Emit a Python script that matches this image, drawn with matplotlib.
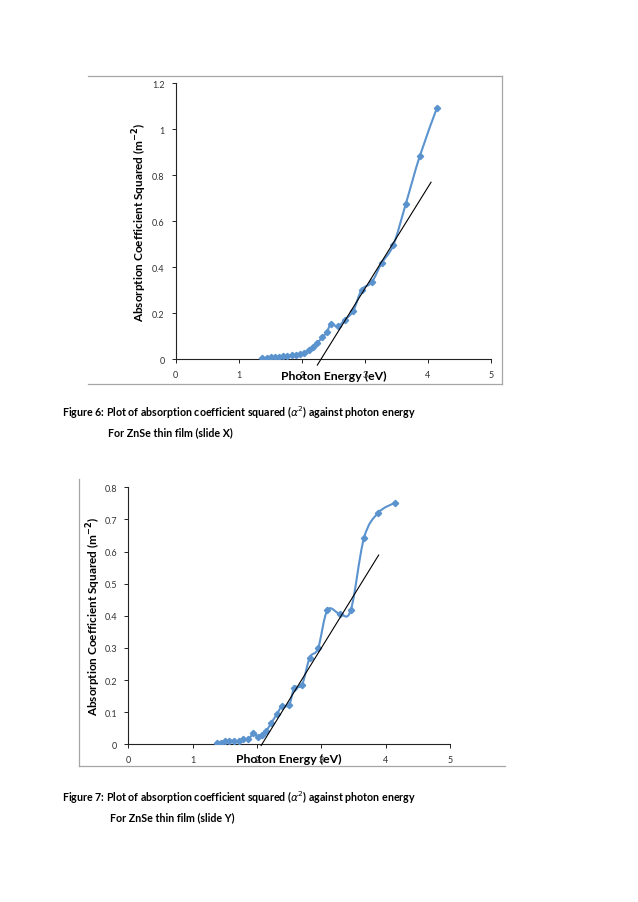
import numpy as np
import matplotlib
matplotlib.use("Agg")
import matplotlib.pyplot as plt
from matplotlib.path import Path
from matplotlib.patches import PathPatch
from matplotlib.lines import Line2D

plt.rcParams['font.family'] = ['Lato', 'DejaVu Sans']

# ---- data: Figure 6 (slide X) ----
energy_x = [1.374, 1.442, 1.506, 1.575, 1.643, 1.707, 1.770, 1.839, 1.908, 1.971,
            2.035, 2.109, 2.172, 2.246, 2.325, 2.394, 2.463, 2.569, 2.685, 2.817,
            2.949, 3.108, 3.266, 3.451, 3.650, 3.870, 4.140]
alpha2_x = [0.005, 0.007, 0.009, 0.010, 0.011, 0.013, 0.016, 0.017, 0.019, 0.022,
            0.026, 0.039, 0.052, 0.071, 0.095, 0.117, 0.153, 0.143, 0.172, 0.211,
            0.302, 0.334, 0.418, 0.496, 0.676, 0.882, 1.090]
fit_x_e = [2.246, 4.049]
fit_x_a = [-0.025, 0.769]

# ---- data: Figure 7 (slide Y) ----
energy_y = [1.375, 1.437, 1.504, 1.571, 1.644, 1.722, 1.789, 1.866, 1.944, 2.012,
            2.074, 2.142, 2.220, 2.307, 2.390, 2.500, 2.580, 2.700, 2.820, 2.950,
            3.095, 3.290, 3.460, 3.663, 3.886, 4.145]
alpha2_y = [0.004, 0.005, 0.010, 0.011, 0.011, 0.010, 0.017, 0.015, 0.034, 0.024,
            0.030, 0.041, 0.066, 0.093, 0.119, 0.122, 0.176, 0.185, 0.270, 0.299,
            0.418, 0.406, 0.419, 0.642, 0.721, 0.752]
fit_y_e = [2.064, 3.891]
fit_y_a = [-0.004, 0.589]

x_ticks = [0, 1, 2, 3, 4, 5]
y_ticks_1 = [0, 0.2, 0.4, 0.6, 0.8, 1.0, 1.2]
y_labels_1 = ['0', '0.2', '0.4', '0.6', '0.8', '1', '1.2']
y_ticks_2 = [0, 0.1, 0.2, 0.3, 0.4, 0.5, 0.6, 0.7, 0.8]
y_labels_2 = ['0', '0.1', '0.2', '0.3', '0.4', '0.5', '0.6', '0.7', '0.8']

BLUE = '#5B93CF'
W, H = 638, 903
fig = plt.figure(figsize=(W / 100, H / 100), dpi=100)


def smooth_path(xs, ys):
    pts = np.column_stack([xs, ys])
    n = len(pts)
    verts = [pts[0]]
    codes = [Path.MOVETO]
    for i in range(n - 1):
        p0 = pts[i - 1] if i > 0 else pts[i]
        p1 = pts[i]
        p2 = pts[i + 1]
        p3 = pts[i + 2] if i + 2 < n else pts[i + 1]
        c1 = p1 + (p2 - p0) / 6.0
        c2 = p2 - (p3 - p1) / 6.0
        verts += [c1, c2, p2]
        codes += [Path.CURVE4] * 3
    return Path(verts, codes)


def px_axes(left, top, right, bottom):
    return [left / W, 1 - bottom / H, (right - left) / W, (bottom - top) / H]


def make_chart(rect, xs, ys, fx, fy, yticks, ylabels, ymax, ylab_x, xlab_y):
    ax = fig.add_axes(rect)
    ax.add_patch(PathPatch(smooth_path(xs, ys), facecolor='none',
                           edgecolor=BLUE, lw=1.5, zorder=3))
    ax.plot(xs, ys, linestyle='none', marker='D', ms=3.2, color=BLUE,
            markeredgecolor=BLUE, zorder=4)
    ax.plot(fx, fy, color='black', lw=0.8, clip_on=False, zorder=5)
    ax.set_xlim(0, 5)
    ax.set_ylim(0, ymax)
    ax.set_xticks(x_ticks)
    ax.set_xticklabels([str(t) for t in x_ticks])
    ax.set_yticks(yticks)
    ax.set_yticklabels(ylabels)
    for s in ['top', 'right']:
        ax.spines[s].set_visible(False)
    for s in ['left', 'bottom']:
        ax.spines[s].set_color('#222222')
        ax.spines[s].set_linewidth(0.8)
    ax.tick_params(axis='both', direction='out', length=3, width=0.7,
                   labelsize=6.5, labelcolor='#333333', color='#222222', pad=5)
    ax.set_xlabel('Photon Energy (eV)', fontsize=8.8, fontweight='bold')
    ax.xaxis.set_label_coords(0.5, xlab_y)
    ax.set_ylabel('Absorption Coefficient Squared (m$^{\\mathbf{-2}}$)', fontsize=8.5,
                  fontweight='bold')
    ax.yaxis.set_label_coords(ylab_x, 0.5)
    ax.set_facecolor('none')
    return ax


ax1 = make_chart(px_axes(175.7, 84, 491, 360.3), energy_x, alpha2_x,
                 fit_x_e, fit_x_a, y_ticks_1, y_labels_1, 1.2,
                 (149 - 175.7) / 315.3, -(371 - 360.3) / 276.3)
ax2 = make_chart(px_axes(128.3, 488.3, 450, 745.3), energy_y, alpha2_y,
                 fit_y_e, fit_y_a, y_ticks_2, y_labels_2, 0.8,
                 (103 - 128.3) / 321.7, -(754 - 745.3) / 257.0)


def fig_line(x0, y0, x1, y1):
    fig.add_artist(Line2D([x0 / W, x1 / W], [1 - y0 / H, 1 - y1 / H],
                          color='#a6a6a6', lw=0.9, transform=fig.transFigure))


# chart frames
fig_line(88, 77, 502, 77)
fig_line(502, 77, 502, 385)
fig_line(88, 385, 502, 385)
fig_line(79, 480, 79, 767)
fig_line(79, 767, 505, 767)

cap_kw = dict(fontsize=7.7, fontweight='bold', color='black', va='center', ha='left')
fig.text(62 / W, 1 - 412 / H,
         r'Figure 6: Plot of absorption coefficient squared ($\alpha^2$) against photon energy',
         **cap_kw)
fig.text(108 / W, 1 - 433 / H, 'For ZnSe thin film (slide X)', **cap_kw)
fig.text(62 / W, 1 - 797 / H,
         r'Figure 7: Plot of absorption coefficient squared ($\alpha^2$) against photon energy',
         **cap_kw)
fig.text(110 / W, 1 - 818 / H, 'For ZnSe thin film (slide Y)', **cap_kw)

fig.savefig('out.png', dpi=100, facecolor='white')
